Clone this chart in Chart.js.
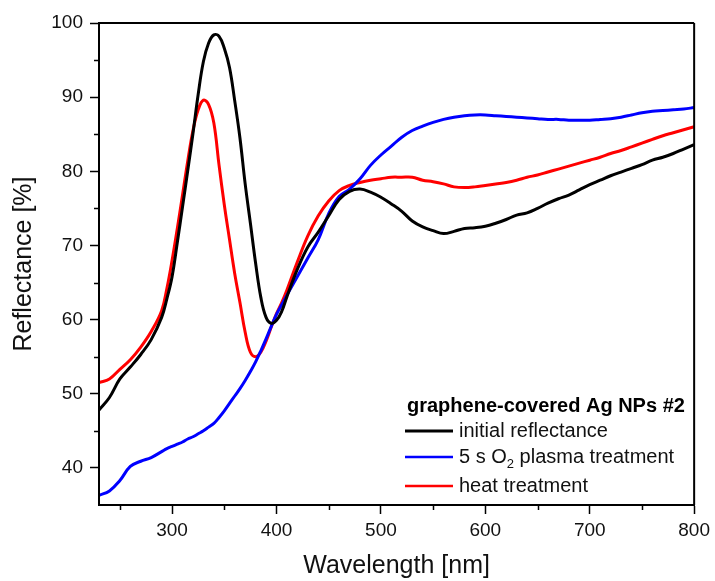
<!DOCTYPE html>
<html>
<head>
<meta charset="utf-8">
<script src="https://cdn.jsdelivr.net/npm/chart.js@4"></script>
<style>
  html, body { margin: 0; padding: 0; background: #fff; }
  #wrap { width: 715px; height: 581px; }
</style>
</head>
<body>
<div id="wrap"><canvas id="c" width="715" height="581"></canvas></div>
<script>
const wavelengths = [230,240,250,260,270,280,290,295,
  300,305,310,315,320,325,330,335,340,345,350,355,360,365,370,375,380,385,390,395,400,405,410,
  420,430,440,450,460,470,480,490,500,510,520,530,540,550,560,570,580,590,600,610,620,630,640,650,660,670,680,690,700,710,720,730,740,750,760,770,780,790,800];

const initialReflectance = [47.8,49.5,52.0,53.6,55.3,57.3,60.3,62.8,
  65.8,70.4,75.2,80.1,85.1,90.4,94.8,97.3,98.4,98.2,96.6,94.0,89.5,84.5,78.3,73.0,67.6,63.0,60.3,59.5,59.9,61.1,63.1,
  66.8,69.8,71.8,74.0,76.2,77.3,77.6,77.2,76.5,75.6,74.6,73.3,72.5,72.0,71.6,71.9,72.3,72.4,72.6,73.0,73.5,74.1,74.4,75.0,75.7,76.3,76.8,77.5,78.2,78.8,79.4,79.9,80.4,80.9,81.5,81.9,82.4,83.0,83.6];

const plasmaTreatment = [36.3,36.9,38.3,40.2,40.9,41.4,42.2,42.6,
  42.9,43.2,43.5,43.9,44.2,44.6,45.0,45.5,46.0,46.8,47.7,48.7,49.7,50.7,51.8,53.0,54.3,55.8,57.4,59.1,60.7,62.0,63.3,
  65.8,68.3,70.8,74.3,76.6,77.6,79.0,80.8,82.2,83.4,84.6,85.5,86.1,86.6,87.0,87.3,87.5,87.6,87.6,87.5,87.4,87.3,87.2,87.1,87.0,87.0,86.9,86.9,86.9,87.0,87.1,87.3,87.6,87.9,88.1,88.2,88.3,88.4,88.6];

const heatTreatment = [51.5,52.0,53.3,54.6,56.3,58.4,61.2,64.2,
  68.0,72.3,76.8,81.4,85.5,88.3,89.6,89.0,86.5,80.8,75.5,70.8,66.2,62.3,58.3,55.6,55.0,55.6,57.1,59.0,60.8,62.3,64.0,
  67.8,71.3,74.0,76.0,77.4,78.1,78.5,78.8,79.0,79.2,79.2,79.2,78.8,78.6,78.3,77.9,77.8,77.9,78.1,78.3,78.5,78.8,79.2,79.5,79.9,80.3,80.7,81.1,81.5,81.9,82.4,82.8,83.3,83.8,84.3,84.8,85.2,85.6,86.0];

const seriesNames = ['initial reflectance', '5 s O\u2082 plasma treatment', 'heat treatment'];
const legendTitle = 'graphene-covered Ag NPs #2';
const xTickValues = [300,400,500,600,700,800];
const xMinorTicks = [250,350,450,550,650,750];
const yTickValues = [40,50,60,70,80,90,100];
const yMinorTicks = [45,55,65,75,85,95];

const toPoints = ys => wavelengths.map((x, i) => ({x, y: ys[i]}));

const FONT = "'Liberation Sans', Arial, sans-serif";

const framePlugin = {
  id: 'frame',
  afterDraw(chart) {
    const {ctx, chartArea: a, scales} = chart;
    ctx.save();
    ctx.strokeStyle = '#000';
    ctx.lineWidth = 2;
    ctx.beginPath();
    ctx.moveTo(a.left, a.top); ctx.lineTo(a.right, a.top);
    ctx.moveTo(a.right, a.top); ctx.lineTo(a.right, a.bottom);
    ctx.moveTo(a.left, a.top); ctx.lineTo(a.left, a.bottom);
    ctx.lineTo(a.right, a.bottom);
    ctx.stroke();
    // minor ticks
    ctx.lineWidth = 1.5;
    ctx.beginPath();
    xMinorTicks.forEach(v => {
      const px = Math.round(scales.x.getPixelForValue(v)) + 0.5;
      ctx.moveTo(px, a.bottom); ctx.lineTo(px, a.bottom + 5);
    });
    yMinorTicks.forEach(v => {
      const py = Math.round(scales.y.getPixelForValue(v)) + 0.5;
      ctx.moveTo(a.left, py); ctx.lineTo(a.left - 5, py);
    });
    ctx.stroke();

    // legend
    const colors = chart.data.datasets.map(d => d.borderColor);
    ctx.fillStyle = '#000';
    ctx.textBaseline = 'alphabetic';
    ctx.textAlign = 'left';
    ctx.font = 'bold 20px ' + FONT;
    ctx.fillText(legendTitle, 407, 412);
    const rowsLine = [431, 457, 486];
    const rowsText = [437, 463, 492];
    for (let i = 0; i < 3; i++) {
      ctx.strokeStyle = colors[i];
      ctx.lineWidth = i === 0 ? 3 : 2.5;
      ctx.beginPath();
      ctx.moveTo(405, rowsLine[i]); ctx.lineTo(453, rowsLine[i]);
      ctx.stroke();
      ctx.fillStyle = '#111';
      ctx.font = '20px ' + FONT;
      if (i === 1) {
        let x = 459;
        const p1 = '5 s O';
        ctx.fillText(p1, x, rowsText[i]);
        x += ctx.measureText(p1).width;
        ctx.font = '13px ' + FONT;
        ctx.fillText('2', x, rowsText[i] + 5);
        x += ctx.measureText('2').width;
        ctx.font = '20px ' + FONT;
        ctx.fillText(' plasma treatment', x, rowsText[i]);
      } else {
        ctx.fillText(seriesNames[i], 459, rowsText[i]);
      }
    }
    ctx.restore();
  }
};

new Chart(document.getElementById('c'), {
  type: 'line',
  data: {
    datasets: [
      { label: seriesNames[0], data: toPoints(initialReflectance), borderColor: '#000000', borderWidth: 3 },
      { label: seriesNames[1], data: toPoints(plasmaTreatment), borderColor: '#0000ff', borderWidth: 3 },
      { label: seriesNames[2], data: toPoints(heatTreatment), borderColor: '#ff0000', borderWidth: 3 }
    ]
  },
  options: {
    responsive: false,
    animation: false,
    devicePixelRatio: 1,
    layout: { padding: { top: 23, right: 18, left: 0, bottom: 0 } },
    elements: { point: { radius: 0 }, line: { tension: 0.4, capBezierPoints: true } },
    plugins: { legend: { display: false }, tooltip: { enabled: false } },
    scales: {
      x: {
        type: 'linear', min: 230, max: 800,
        afterBuildTicks: s => { s.ticks = xTickValues.map(v => ({value: v})); },
        afterFit: s => { s.height = 76; },
        grid: { display: true, drawOnChartArea: false, drawTicks: true, tickLength: 9, tickWidth: 1.5, tickColor: '#000' },
        border: { display: true, color: '#000', width: 2 },
        ticks: { color: '#111', font: { family: FONT, size: 19 }, padding: 5, maxRotation: 0, autoSkip: false },
        title: { display: true, text: 'Wavelength [nm]', color: '#111', font: { family: FONT, size: 25, lineHeight: 1.2 }, padding: { top: 0, bottom: 0 } }
      },
      y: {
        type: 'linear', min: 35, max: 100,
        afterBuildTicks: s => { s.ticks = yTickValues.map(v => ({value: v})); },
        afterFit: s => { s.width = 99; },
        grid: { display: true, drawOnChartArea: false, drawTicks: true, tickLength: 9, tickWidth: 1.5, tickColor: '#000' },
        border: { display: true, color: '#000', width: 2 },
        ticks: { color: '#111', font: { family: FONT, size: 19 }, padding: 7, autoSkip: false },
        title: { display: true, text: 'Reflectance [%]', color: '#111', font: { family: FONT, size: 25, lineHeight: 1.2 }, padding: { top: 9, bottom: 0 } }
      }
    }
  },
  plugins: [framePlugin]
});
</script>
</body>
</html>
